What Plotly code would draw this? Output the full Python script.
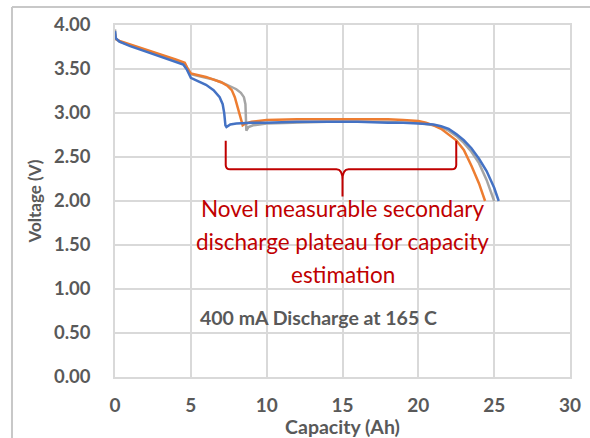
import plotly.graph_objects as go

# ---- data ----
blue_x = [0, 0.05, 0.3, 1, 2, 3, 4, 4.5, 4.75, 5.0, 5.5, 6.0, 6.5, 6.9, 7.1, 7.2, 7.28, 7.35, 7.6, 8.0,
          9, 10, 12, 14, 16, 18, 19, 20, 21, 21.5, 22, 22.5, 23, 23.5, 24, 24.5, 25.0, 25.3]
blue_y = [3.93, 3.85, 3.81, 3.76, 3.70, 3.64, 3.58, 3.55, 3.49, 3.40, 3.36, 3.32, 3.26, 3.18, 3.10, 3.00, 2.86, 2.84, 2.87, 2.88,
          2.89, 2.89, 2.90, 2.90, 2.90, 2.89, 2.89, 2.88, 2.87, 2.85, 2.82, 2.76, 2.69, 2.60, 2.48, 2.34, 2.15, 2.00]

orange_x = [0, 0.05, 0.3, 1, 2, 3, 4, 4.6, 4.8, 5.0, 5.5, 6, 6.5, 7.0, 7.4, 7.7, 7.9, 8.1, 8.3, 8.42, 8.6,
            9, 10, 12, 14, 16, 18, 19, 20, 20.5, 21, 21.5, 22, 22.5, 23, 23.5, 24, 24.4]
orange_y = [3.90, 3.84, 3.82, 3.78, 3.73, 3.67, 3.61, 3.57, 3.50, 3.45, 3.43, 3.41, 3.38, 3.35, 3.31, 3.26, 3.18, 3.05, 2.93, 2.86, 2.88,
            2.90, 2.92, 2.93, 2.93, 2.93, 2.93, 2.92, 2.91, 2.89, 2.86, 2.82, 2.76, 2.69, 2.58, 2.40, 2.20, 2.00]

gray_x = [0, 0.05, 0.3, 1, 2, 3, 4, 4.6, 4.8, 5.0, 5.5, 6, 6.5, 7, 7.5, 8.0, 8.3, 8.5, 8.6, 8.66, 8.8,
          9.1, 10, 12, 14, 16, 18, 19, 20, 21, 21.5, 22, 22.5, 23, 23.5, 24, 24.5, 25.0]
gray_y = [3.95, 3.84, 3.81, 3.77, 3.72, 3.66, 3.60, 3.56, 3.50, 3.44, 3.42, 3.40, 3.38, 3.35, 3.31, 3.27, 3.23, 3.18, 3.10, 2.80, 2.84,
          2.86, 2.88, 2.89, 2.90, 2.90, 2.90, 2.89, 2.89, 2.86, 2.84, 2.80, 2.74, 2.66, 2.56, 2.43, 2.24, 2.00]

x_ticks = [0, 5, 10, 15, 20, 25, 30]
y_ticks = [0, 0.5, 1.0, 1.5, 2.0, 2.5, 3.0, 3.5, 4.0]

note_lines = ["Novel measurable secondary", "discharge plateau for capacity", "estimation"]
note_y = [1.92, 1.54, 1.17]
condition_text = "400 mA Discharge at 165 C"

# bracket geometry (data units)
br_left, br_right, br_mid = 7.3, 22.5, 15.0
br_top, br_bar, br_tip = 2.685, 2.36, 2.05

GRID = "#D9D9D9"
TXT = "#595959"
RED = "#C00000"
FONT = "Lato"

fig = go.Figure()
for xs, ys, col in [(gray_x, gray_y, "#A5A5A5"), (orange_x, orange_y, "#ED7D31"), (blue_x, blue_y, "#4472C4")]:
    fig.add_trace(go.Scatter(x=xs, y=ys, mode="lines", line=dict(color=col, width=2.5), showlegend=False))

bracket = (
    f"M {br_left},{br_top} L {br_left},{br_bar + 0.05} Q {br_left},{br_bar} {br_left + 0.3},{br_bar} "
    f"L {br_mid - 0.4},{br_bar} Q {br_mid},{br_bar} {br_mid},{br_bar - 0.12} L {br_mid},{br_tip} "
    f"M {br_mid},{br_bar - 0.12} Q {br_mid},{br_bar} {br_mid + 0.4},{br_bar} "
    f"L {br_right - 0.3},{br_bar} Q {br_right},{br_bar} {br_right},{br_bar + 0.05} L {br_right},{br_top}"
)
fig.add_shape(type="path", path=bracket, xref="x", yref="y", line=dict(color=RED, width=2))

# outer chart frame (left and top edges; the rest runs past the picture)
fig.add_shape(type="line", xref="paper", yref="paper", x0=-0.2264, x1=1.3, y0=1.0511, y1=1.0511,
              line=dict(color="#C8C8C8", width=2))
fig.add_shape(type="line", xref="paper", yref="paper", x0=-0.2264, x1=-0.2264, y0=-0.4, y1=1.0511,
              line=dict(color="#C8C8C8", width=2))

for t, yy in zip(note_lines, note_y):
    fig.add_annotation(x=15.0, y=yy, text=t, showarrow=False, xanchor="center", yanchor="middle",
                       font=dict(family=FONT, size=22.5, color=RED))
fig.add_annotation(x=5.5, y=0.68, text=f"<b>{condition_text}</b>", showarrow=False, xanchor="left",
                   yanchor="middle", font=dict(family=FONT, size=19.5, color=TXT))

fig.update_layout(
    width=590, height=438,
    margin=dict(l=115, r=20, t=25, b=61, autoexpand=False),
    paper_bgcolor="white", plot_bgcolor="white",
    font=dict(family=FONT, color=TXT),
    xaxis=dict(range=[0, 30], tickvals=x_ticks, ticktext=[f"<b>{v}</b>" for v in x_ticks],
               showgrid=True, gridcolor=GRID, gridwidth=1.5, zeroline=False, automargin=False,
               showline=True, mirror=True, linecolor=GRID, linewidth=1.5,
               ticks="", ticklabelstandoff=10, tickfont=dict(family=FONT, size=19, color=TXT),
               title=dict(text="<b>Capacity (Ah)</b>", font=dict(family=FONT, size=19.5, color=TXT), standoff=1)),
    yaxis=dict(range=[0, 4], tickvals=y_ticks, ticktext=[f"<b>{v:.2f}</b>" for v in y_ticks],
               showgrid=True, gridcolor=GRID, gridwidth=1.5, zeroline=False, automargin=False,
               showline=True, mirror=True, linecolor=GRID, linewidth=1.5,
               ticks="", ticklabelstandoff=19, tickfont=dict(family=FONT, size=18.5, color=TXT),
               title=dict(text="<b>Voltage (V)</b>", font=dict(family=FONT, size=17, color=TXT), standoff=8)),
)

fig.write_html("out.html", config={"displayModeBar": False},
               post_script="document.body.style.margin='0px';")
